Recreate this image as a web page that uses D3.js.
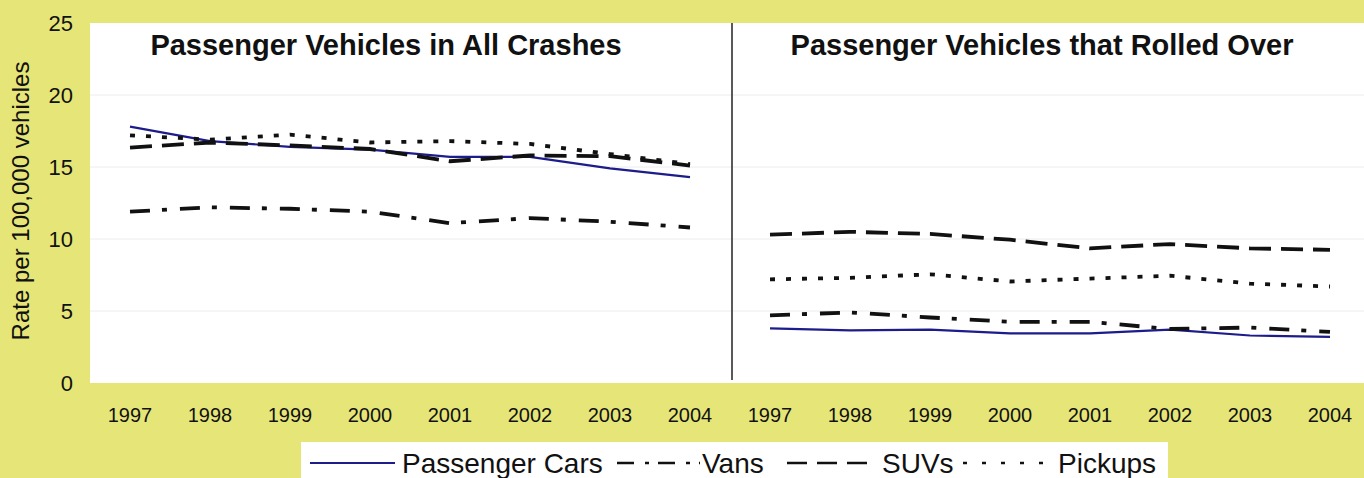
<!DOCTYPE html>
<html>
<head>
<meta charset="utf-8">
<script src="https://cdn.jsdelivr.net/npm/d3@7"></script>
<style>
  body { margin: 0; background: #e6e678; }
  svg { display: block; font-family: "Liberation Sans", Arial, sans-serif; }
  .tick text { fill: #111; }
</style>
</head>
<body>
<div id="chart"></div>
<script>
// data
const years = ['1997', '1998', '1999', '2000', '2001', '2002', '2003', '2004']
const panels = ['Passenger Vehicles in All Crashes', 'Passenger Vehicles that Rolled Over']
const seriesNames = ['Passenger Cars', 'Vans', 'SUVs', 'Pickups']
const yTicks = [0, 5, 10, 15, 20, 25]

const carsAll = [17.8, 16.8, 16.4, 16.2, 15.7, 15.7, 14.9, 14.3]
const vansAll = [11.9, 12.2, 12.1, 11.9, 11.1, 11.45, 11.2, 10.8]
const suvsAll = [16.35, 16.7, 16.5, 16.25, 15.4, 15.8, 15.75, 15.1]
const pickupsAll = [17.2, 16.9, 17.25, 16.7, 16.8, 16.6, 15.9, 15.2]

const carsRoll = [3.8, 3.65, 3.7, 3.45, 3.45, 3.7, 3.3, 3.2]
const vansRoll = [4.7, 4.9, 4.55, 4.25, 4.25, 3.75, 3.85, 3.55]
const suvsRoll = [10.3, 10.5, 10.35, 9.95, 9.35, 9.65, 9.35, 9.25]
const pickupsRoll = [7.2, 7.3, 7.55, 7.05, 7.25, 7.45, 6.9, 6.7]

const panelData = [
  [carsAll, vansAll, suvsAll, pickupsAll],
  [carsRoll, vansRoll, suvsRoll, pickupsRoll]
]

const W = 1364, H = 478
const plot = { left: 90, top: 23, right: 1370, bottom: 383 }

// line styles per series (chart / legend dash)
const styles = [
  { stroke: '#1c1c8a', width: 2.2, dash: null, legendDash: null },
  { stroke: '#111', width: 3.8, dash: '20,12,5,13', legendDash: '17,11,4,9' },
  { stroke: '#111', width: 3.8, dash: '22,10', legendDash: '20,10' },
  { stroke: '#111', width: 3.8, dash: '5,11', legendDash: '4,15' }
]

const svg = d3.select('#chart').append('svg')
  .attr('width', W)
  .attr('height', H)

svg.append('rect')
  .attr('width', W).attr('height', H)
  .attr('fill', '#e6e678')

svg.append('rect')
  .attr('x', plot.left).attr('y', plot.top)
  .attr('width', plot.right - plot.left)
  .attr('height', plot.bottom - plot.top)
  .attr('fill', '#fff')

// one band per panel, each split in year bands
let panelX = d3.scaleBand().domain(panels).range([plot.left, plot.right])
let x = d3.scaleBand().domain(years).range([0, panelX.bandwidth()])
let y = d3.scaleLinear().domain([0, 25]).range([plot.bottom, plot.top])

// grid
svg.append('g')
  .selectAll('line')
  .data(yTicks.filter(d => d > 0 && d < 25))
  .join('line')
  .attr('x1', plot.left).attr('x2', W)
  .attr('y1', d => y(d)).attr('y2', d => y(d))
  .attr('stroke', '#ececec')
  .attr('stroke-width', 1)

// y axis
let yAxis = svg.append('g')
  .attr('transform', `translate(${plot.left},0)`)
  .call(d3.axisLeft(y).tickValues(yTicks).tickSize(0).tickPadding(17))
yAxis.select('.domain').remove()
yAxis.selectAll('text').attr('font-size', 22)

svg.append('text')
  .attr('transform', `translate(29,${(plot.top + plot.bottom) / 2 - 2}) rotate(-90)`)
  .attr('text-anchor', 'middle')
  .attr('font-size', 24)
  .attr('fill', '#111')
  .text('Rate per 100,000 vehicles')

let line = d3.line()
let titleShift = [-24, -8]

panels.forEach((p, pi) => {
  let g = svg.append('g').attr('transform', `translate(${panelX(p)},0)`)

  let xAxis = g.append('g')
    .attr('transform', `translate(0,${plot.bottom})`)
    .call(d3.axisBottom(x).tickSize(0).tickPadding(25))
  xAxis.select('.domain').remove()
  xAxis.selectAll('text').attr('font-size', 20)

  g.append('text')
    .attr('x', panelX.bandwidth() / 2 + titleShift[pi])
    .attr('y', 55)
    .attr('text-anchor', 'middle')
    .attr('font-size', 29)
    .attr('font-weight', 'bold')
    .attr('fill', '#111')
    .text(p)

  panelData[pi].forEach((vals, si) => {
    let st = styles[si]
    let pts = vals.map((v, i) => [x(years[i]) + x.bandwidth() / 2, y(v)])
    g.append('path')
      .attr('d', line(pts))
      .attr('fill', 'none')
      .attr('stroke', st.stroke)
      .attr('stroke-width', st.width)
      .attr('stroke-dasharray', st.dash)
  })
})

// divider between the panels
svg.append('line')
  .attr('x1', panelX(panels[1]) + 2).attr('x2', panelX(panels[1]) + 2)
  .attr('y1', plot.top).attr('y2', plot.bottom - 3)
  .attr('stroke', '#222')
  .attr('stroke-width', 1.5)

// legend
let legend = svg.append('g')
legend.append('rect')
  .attr('x', 301).attr('y', 442)
  .attr('width', 867).attr('height', 40)
  .attr('fill', '#fff')

let legendItems = [
  { x0: 310, x1: 395, tx: 402 },
  { x0: 617, x1: 700, tx: 702 },
  { x0: 787, x1: 867, tx: 882 },
  { x0: 963, x1: 1044, tx: 1058 }
]
seriesNames.forEach((name, i) => {
  let st = styles[i]
  let it = legendItems[i]
  legend.append('line')
    .attr('x1', it.x0).attr('x2', it.x1)
    .attr('y1', 463).attr('y2', 463)
    .attr('stroke', st.stroke)
    .attr('stroke-width', i == 0 ? 2.2 : 2.5)
    .attr('stroke-dasharray', st.legendDash)
  legend.append('text')
    .attr('x', it.tx).attr('y', 473)
    .attr('font-size', 28)
    .attr('fill', '#111')
    .text(name)
})
</script>
</body>
</html>
